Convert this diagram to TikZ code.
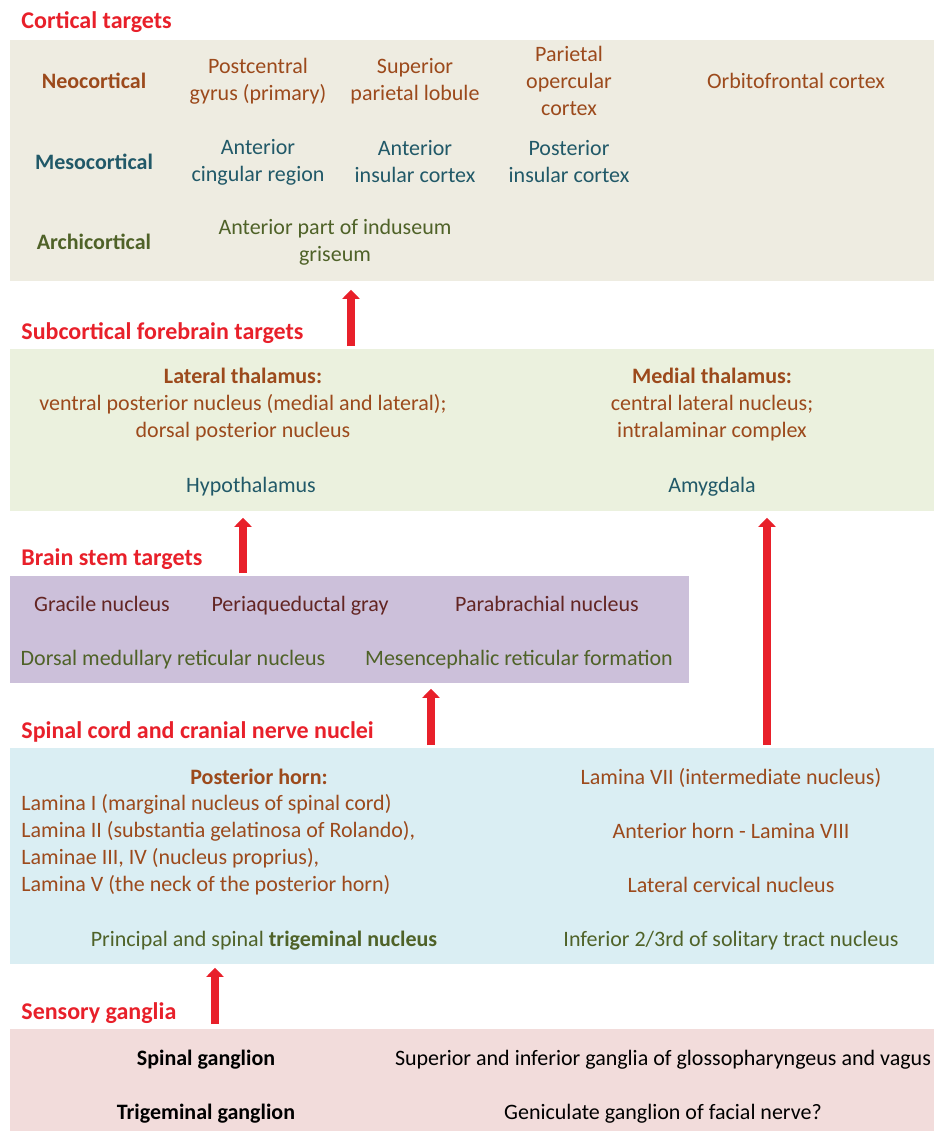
\documentclass[tikz,border=0pt]{standalone}
\usepackage{fontspec}
\setmainfont{Carlito}
\usepackage{tikz}
\usetikzlibrary{arrows.meta,calc}
\definecolor{headred}{RGB}{232,32,42}
\definecolor{brown}{RGB}{156,74,28}
\definecolor{teal}{RGB}{33,89,104}
\definecolor{olive}{RGB}{79,98,40}
\definecolor{darkred}{RGB}{99,37,35}
\definecolor{cortexbg}{RGB}{238,236,225}
\definecolor{subcbg}{RGB}{235,241,222}
\definecolor{stembg}{RGB}{204,192,218}
\definecolor{spinalbg}{RGB}{218,238,243}
\definecolor{gangliabg}{RGB}{242,220,219}
\tikzset{
	box/.style = {draw = none, inner sep = 0pt, anchor = north west},
	heading/.style = {text = headred, font = \fontsize{12}{13.5}\selectfont\bfseries, anchor = west, inner sep = 0pt, text height = 10pt, text depth = 2pt},
	label/.style = {inner sep = 0pt, align = center},
	line/.style = {inner sep = 0pt, text height = 10pt, text depth = 2pt},
	strong/.style = {font = \fontsize{11}{13.5}\selectfont\bfseries},
	uparrow/.style = {draw = headred, line width = 4pt, -{Triangle[width=8.5pt,length=4.5pt]}}
}

\begin{document}
\begin{tikzpicture}[x=0.5pt, y=-0.5pt, font=\fontsize{11}{13.5}\selectfont]
    \useasboundingbox (0,0) rectangle (934,1131);
    % Boxes
    \node[box, fill=cortexbg, minimum width=462pt, minimum height=120.5pt] (cortex) at (10,40) {};
    \node[box, fill=subcbg, minimum width=462pt, minimum height=81pt] (subc) at (10,349) {};
    \node[box, fill=stembg, minimum width=339.5pt, minimum height=53.5pt] (stem) at (10,576) {};
    \node[box, fill=spinalbg, minimum width=462pt, minimum height=108pt] (spinal) at (10,748) {};
    \node[box, fill=gangliabg, minimum width=462pt, minimum height=51pt] (ganglia) at (10,1029) {};

    % Headings
    \node[heading] (cortex-head) at (21,20) {Cortical targets};
    \node[heading] (subc-head) at (21,331) {Subcortical forebrain targets};
    \node[heading] (stem-head) at (21,557) {Brain stem targets};
    \node[heading] (spinal-head) at (21,730) {Spinal cord and cranial nerve nuclei};
    \node[heading] (ganglia-head) at (21,1011) {Sensory ganglia};

    % Cortical targets
    \node[line, strong, text=brown] (neocortical) at (94,80) {Neocortical};
    \node[label, text=brown] (postcentral) at (258,81) {Postcentral\\gyrus (primary)};
    \node[label, text=brown] (superior) at (415,81) {Superior\\parietal lobule};
    \node[label, text=brown] (opercular) at (569,81) {Parietal\\opercular\\cortex};
    \node[line, text=brown] (orbito) at (796,80) {Orbitofrontal cortex};
    \node[line, strong, text=teal] (mesocortical) at (94,161) {Mesocortical};
    \node[label, text=teal] (cingular) at (258,162) {Anterior\\cingular region};
    \node[label, text=teal] (ant-insular) at (415,162) {Anterior\\insular cortex};
    \node[label, text=teal] (post-insular) at (569,162) {Posterior\\insular cortex};
    \node[line, strong, text=olive] (archicortical) at (94,241) {Archicortical};
    \node[label, text=olive] (induseum) at (335,242) {Anterior part of induseum\\griseum};

    % Subcortical forebrain targets
    \node[label, text=brown] (lat-thal) at (243,405) {{\bfseries Lateral thalamus:}\\ventral posterior nucleus (medial and lateral);\\dorsal posterior nucleus};
    \node[label, text=brown] (med-thal) at (712,405) {{\bfseries Medial thalamus:}\\central lateral nucleus;\\intralaminar complex};
    \node[line, text=teal] (hypothal) at (251,484) {Hypothalamus};
    \node[line, text=teal] (amygdala) at (712,484) {Amygdala};

    % Brain stem targets
    \node[line, text=darkred] (gracile) at (102,603) {Gracile nucleus};
    \node[line, text=darkred] (pag) at (300,603) {Periaqueductal gray};
    \node[line, text=darkred] (parabrachial) at (547,603) {Parabrachial nucleus};
    \node[line, text=olive] (dorsal-med) at (173,657) {Dorsal medullary reticular nucleus};
    \node[line, text=olive] (mesenceph) at (519,657) {Mesencephalic reticular formation};

    % Spinal cord and cranial nerve nuclei
    \node[line, strong, text=brown] (post-horn) at (259,776) {Posterior horn:};
    \node[inner sep=0pt, text=brown, align=left, anchor=west] (laminae) at (21,845) {Lamina I (marginal nucleus of spinal cord)\\Lamina II (substantia gelatinosa of Rolando),\\Laminae III, IV (nucleus proprius),\\Lamina V (the neck of the posterior horn)};
    \node[line, text=brown] (lamina7) at (731,776) {Lamina VII (intermediate nucleus)};
    \node[line, text=brown] (ant-horn) at (731,830) {Anterior horn - Lamina VIII};
    \node[line, text=brown] (lat-cerv) at (731,884) {Lateral cervical nucleus};
    \node[line, text=olive] (trigeminal) at (264,938) {Principal and spinal \textbf{trigeminal nucleus}};
    \node[line, text=olive] (solitary) at (731,938) {Inferior 2/3rd of solitary tract nucleus};

    % Sensory ganglia
    \node[line, strong] (spinal-gang) at (206,1057) {Spinal ganglion};
    \node[line, strong] (trig-gang) at (206,1111) {Trigeminal ganglion};
    \node[line] (vagus-gang) at (663,1057) {Superior and inferior ganglia of glossopharyngeus and vagus};
    \node[line] (facial-gang) at (663,1111) {Geniculate ganglion of facial nerve?};

    % Arrows
    \coordinate (a1) at (351,0);
    \coordinate (a2) at (243,0);
    \coordinate (a3) at (767,0);
    \coordinate (a4) at (431,0);
    \coordinate (a5) at (215,0);
    \draw[uparrow] ([yshift=1.5pt]subc.north -| a1) -- ([yshift=-4pt]cortex.south -| a1);
    \draw[uparrow] ([yshift=1.5pt]stem.north -| a2) -- ([yshift=-3pt]subc.south -| a2);
    \draw[uparrow] ([yshift=1.5pt]spinal.north -| a3) -- ([yshift=-3pt]subc.south -| a3);
    \draw[uparrow] ([yshift=1.5pt]spinal.north -| a4) -- ([yshift=-2.5pt]stem.south -| a4);
    \draw[uparrow] ([yshift=2.5pt]ganglia.north -| a5) -- ([yshift=-1.5pt]spinal.south -| a5);

\end{tikzpicture}
\end{document}
